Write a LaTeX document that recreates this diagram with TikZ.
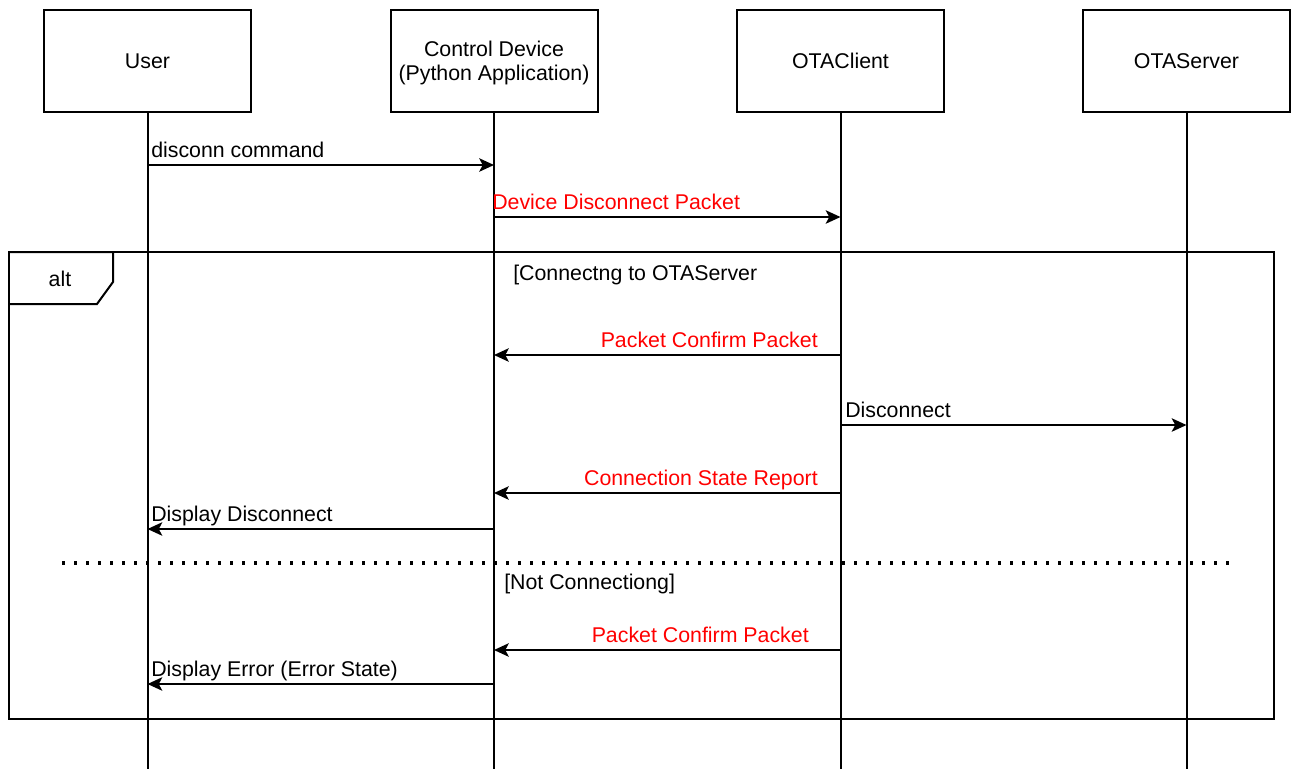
\documentclass[tikz,border=0pt]{standalone}
\usepackage{fontspec}
\setmainfont{Liberation Sans}
\usetikzlibrary{arrows.meta}
\definecolor{msgred}{HTML}{FF0000}
\tikzset{
  actor/.style={draw, line width=1.5pt, minimum width=155.25pt, minimum height=76.5pt, align=center, inner sep=0pt, font=\fontsize{16}{18}\selectfont},
  life/.style={line width=1.5pt},
  msg/.style={line width=1.5pt, -{Stealth[length=11pt, width=10pt, inset=2.5pt]}},
  lbl/.style={inner sep=0pt, font=\fontsize{16}{18}\selectfont},
  redlbl/.style={lbl, text=msgred},
  frame/.style={line width=1.5pt},
  sep/.style={line width=2.4pt, dash pattern=on 2.4pt off 6.6pt}
}
\begin{document}
\begin{tikzpicture}[x=0.75pt,y=-0.75pt]
\useasboundingbox (0,0) rectangle (1293,769);
% actors
\node[actor] (user) at (147.5,61) {User};
\node[actor] (cd) at (494,61) {};
\node[lbl, align=center] (cdlbl) at (494,63) {Control Device\\(Python Application)};
\node[actor] (otac) at (840.5,61) {OTAClient};
\node[actor] (otas) at (1186.5,61) {OTAServer};
% lifeline ends
\path (0,769) coordinate (bot);
\draw[life] (user.south) -- (user.south |- bot);
\draw[life] (cd.south) -- (cd.south |- bot);
\draw[life] (otac.south) -- (otac.south |- bot);
\draw[life] (otas.south) -- (otas.south |- bot);
% message rows
\path (0,165) coordinate (y1) (0,217) coordinate (y2) (0,355) coordinate (y3)
      (0,425) coordinate (y4) (0,493) coordinate (y5) (0,529) coordinate (y6)
      (0,650) coordinate (y7) (0,684) coordinate (y8);
\draw[msg] (user.south |- y1) -- (cd.south |- y1);
\node[lbl, anchor=base west] (l1) at (151,157) {disconn command};
\draw[msg] (cd.south |- y2) -- (otac.south |- y2);
\node[redlbl, anchor=base west] (l2) at (492,209) {Device Disconnect Packet};
% alt frame
\coordinate (fa) at (9,252);
\coordinate (fb) at (1274,719);
\draw[frame] (fa) rectangle (fb);
\draw[frame] (9,252) -- (113,252) -- (113,282) -- (97,304) -- (9,304);
\node[lbl] (alt) at (60,279) {alt};
\node[lbl, anchor=base west] (g1) at (513,280) {[Connectng to OTAServer};
\draw[msg] (otac.south |- y3) -- (cd.south |- y3);
\node[redlbl, anchor=base east] (l3) at (818,347) {Packet Confirm Packet};
\draw[msg] (otac.south |- y4) -- (otas.south |- y4);
\node[lbl, anchor=base west] (l4) at (845,417) {Disconnect};
\draw[msg] (otac.south |- y5) -- (cd.south |- y5);
\node[redlbl, anchor=base east] (l5) at (818,485) {Connection State Report};
\draw[msg] (cd.south |- y6) -- (user.south |- y6);
\node[lbl, anchor=base west] (l6) at (151,521) {Display Disconnect};
% separator
\coordinate (s1) at (62,563);
\coordinate (s2) at (1232,563);
\draw[sep] (s1) -- (s2);
\node[lbl, anchor=base west] (g2) at (504,589) {[Not Connectiong]};
\draw[msg] (otac.south |- y7) -- (cd.south |- y7);
\node[redlbl, anchor=base east] (l7) at (809,642) {Packet Confirm Packet};
\draw[msg] (cd.south |- y8) -- (user.south |- y8);
\node[lbl, anchor=base west] (l8) at (151,676) {Display Error (Error State)};
\end{tikzpicture}
\end{document}
